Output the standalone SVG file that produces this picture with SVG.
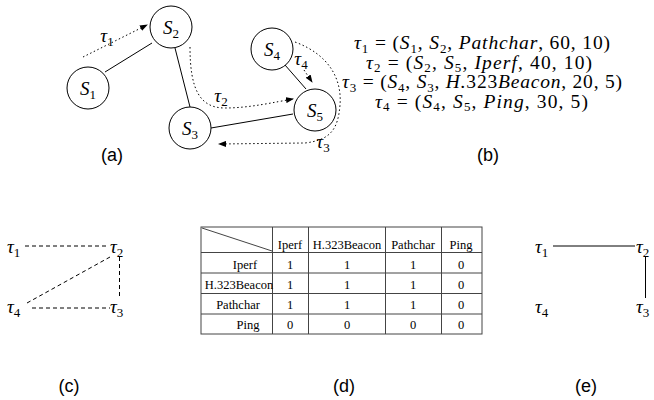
<svg xmlns="http://www.w3.org/2000/svg" width="654" height="400" viewBox="0 0 654 400">
<defs>
<style>
.m{font-family:"Liberation Serif","DejaVu Serif",serif;font-size:19px;fill:#000}
.b{font-family:"Liberation Serif","DejaVu Serif",serif;font-size:19.5px;fill:#000}
.i{font-style:italic}
.s{font-size:13px}
.lbl{font-family:"Liberation Sans",Arial,sans-serif;font-size:18px;fill:#000;text-anchor:middle}
.node{fill:#fff;stroke:#000;stroke-width:1}
.edge{stroke:#000;stroke-width:1;fill:none}
.dot{stroke:#000;stroke-width:1;fill:none;stroke-dasharray:1.5 2.5}
.dash{stroke:#000;stroke-width:1;fill:none;stroke-dasharray:4 3}
.tb{font-family:"Liberation Serif","Times New Roman",serif;font-size:12.5px;fill:#000;text-anchor:middle}
.grid{stroke:#444;stroke-width:1;fill:none}
</style>
<marker id="ah" markerWidth="8" markerHeight="6" refX="7" refY="3" orient="auto" markerUnits="userSpaceOnUse">
<path d="M0,0 L8,3 L0,6 Z" fill="#000"/>
</marker>
</defs>
<rect width="654" height="400" fill="#fff"/>

<!-- (a) -->
<g id="connectors-a">
<line class="edge" x1="105" y1="72" x2="152" y2="43"/>
<line class="edge" x1="175" y1="48" x2="190" y2="107"/>
<line class="edge" x1="211" y1="128" x2="293" y2="114"/>
<line class="edge" x1="285" y1="65" x2="306" y2="89"/>
<path class="dot" d="M83,57 L147,25" marker-end="url(#ah)"/>
<path class="dot" d="M190,47 C190,90 200,108 225,108 C250,108 275,102 293,99" marker-end="url(#ah)"/>
<path class="dot" d="M295,42 C330,55 342,80 340,105 C338,130 330,140 305,143 L219,144" marker-end="url(#ah)"/>
<path class="dot" d="M304,70 L312,82" marker-end="url(#ah)"/>
</g>
<g id="S1"><circle class="node" cx="88" cy="88" r="21"/><text class="m" x="88" y="95" text-anchor="middle"><tspan class="i">S</tspan><tspan class="s" dy="4">1</tspan></text></g>
<g id="S2"><circle class="node" cx="171" cy="27" r="21"/><text class="m" x="171" y="34" text-anchor="middle"><tspan class="i">S</tspan><tspan class="s" dy="4">2</tspan></text></g>
<g id="S3"><circle class="node" cx="190" cy="128" r="21"/><text class="m" x="190" y="135" text-anchor="middle"><tspan class="i">S</tspan><tspan class="s" dy="4">3</tspan></text></g>
<g id="S4"><circle class="node" cx="272" cy="49" r="21"/><text class="m" x="272" y="56" text-anchor="middle"><tspan class="i">S</tspan><tspan class="s" dy="4">4</tspan></text></g>
<g id="S5"><circle class="node" cx="315" cy="110" r="21"/><text class="m" x="315" y="117" text-anchor="middle"><tspan class="i">S</tspan><tspan class="s" dy="4">5</tspan></text></g>
<g id="tau-labels-a">
<text class="m" x="107" y="42" text-anchor="middle"><tspan class="i">τ</tspan><tspan class="s" dy="4">1</tspan></text>
<text class="m" x="221" y="102" text-anchor="middle"><tspan class="i">τ</tspan><tspan class="s" dy="4">2</tspan></text>
<text class="m" x="323" y="148" text-anchor="middle"><tspan class="i">τ</tspan><tspan class="s" dy="4">3</tspan></text>
<text class="m" x="301" y="65" text-anchor="middle"><tspan class="i">τ</tspan><tspan class="s" dy="4">4</tspan></text>
</g>
<text class="lbl" x="112" y="161">(a)</text>

<!-- (b) -->
<g id="tuples">
<text class="b" x="354" y="49" textLength="256" lengthAdjust="spacing"><tspan class="i">τ</tspan><tspan class="s" dy="3.5">1</tspan><tspan dy="-3.5"> = (</tspan><tspan class="i">S</tspan><tspan class="s" dy="3.5">1</tspan><tspan dy="-3.5">,</tspan><tspan class="i"> S</tspan><tspan class="s" dy="3.5">2</tspan><tspan dy="-3.5">,</tspan><tspan class="i"> Pathchar</tspan><tspan>, 60, 10)</tspan></text>
<text class="b" x="366" y="68.5" textLength="226" lengthAdjust="spacing"><tspan class="i">τ</tspan><tspan class="s" dy="3.5">2</tspan><tspan dy="-3.5"> = (</tspan><tspan class="i">S</tspan><tspan class="s" dy="3.5">2</tspan><tspan dy="-3.5">,</tspan><tspan class="i"> S</tspan><tspan class="s" dy="3.5">5</tspan><tspan dy="-3.5">,</tspan><tspan class="i"> Iperf</tspan><tspan>, 40, 10)</tspan></text>
<text class="b" x="342" y="88" textLength="280" lengthAdjust="spacing"><tspan class="i">τ</tspan><tspan class="s" dy="3.5">3</tspan><tspan dy="-3.5"> = (</tspan><tspan class="i">S</tspan><tspan class="s" dy="3.5">4</tspan><tspan dy="-3.5">,</tspan><tspan class="i"> S</tspan><tspan class="s" dy="3.5">3</tspan><tspan dy="-3.5">,</tspan><tspan class="i"> H.</tspan><tspan>323</tspan><tspan class="i">Beacon</tspan><tspan>, 20, 5)</tspan></text>
<text class="b" x="375" y="107.5" textLength="213" lengthAdjust="spacing"><tspan class="i">τ</tspan><tspan class="s" dy="3.5">4</tspan><tspan dy="-3.5"> = (</tspan><tspan class="i">S</tspan><tspan class="s" dy="3.5">4</tspan><tspan dy="-3.5">,</tspan><tspan class="i"> S</tspan><tspan class="s" dy="3.5">5</tspan><tspan dy="-3.5">,</tspan><tspan class="i"> Ping</tspan><tspan>, 30, 5)</tspan></text>
</g>
<text class="lbl" x="488" y="161">(b)</text>

<!-- (c) -->
<g id="connectors-c">
<line class="dash" x1="25" y1="246" x2="108" y2="246"/>
<line class="dash" x1="119.5" y1="257" x2="119.5" y2="297"/>
<line class="dash" x1="27" y1="303" x2="110" y2="257"/>
<line class="dash" x1="32" y1="308" x2="110" y2="308"/>
</g>
<g id="c-t1"><text class="m" x="7" y="253"><tspan class="i">τ</tspan><tspan class="s" dy="4">1</tspan></text></g>
<g id="c-t2"><text class="m" x="110" y="253"><tspan class="i">τ</tspan><tspan class="s" dy="4">2</tspan></text></g>
<g id="c-t4"><text class="m" x="7" y="313"><tspan class="i">τ</tspan><tspan class="s" dy="4">4</tspan></text></g>
<g id="c-t3"><text class="m" x="110" y="313"><tspan class="i">τ</tspan><tspan class="s" dy="4">3</tspan></text></g>
<text class="lbl" x="69" y="392">(c)</text>

<!-- (d) -->
<g id="table">
<rect class="grid" x="201" y="227" width="281" height="107"/>
<line class="grid" x1="272.5" y1="227" x2="272.5" y2="334"/>
<line class="grid" x1="308.5" y1="227" x2="308.5" y2="334"/>
<line class="grid" x1="385.5" y1="227" x2="385.5" y2="334"/>
<line class="grid" x1="441.5" y1="227" x2="441.5" y2="334"/>
<line class="grid" x1="201" y1="252.5" x2="482" y2="252.5"/>
<line class="grid" x1="201" y1="273" x2="482" y2="273"/>
<line class="grid" x1="201" y1="293.5" x2="482" y2="293.5"/>
<line class="grid" x1="201" y1="314" x2="482" y2="314"/>
<line class="grid" x1="202" y1="228" x2="272" y2="251"/>
<text class="tb" x="290" y="248.5">Iperf</text>
<text class="tb" x="347" y="248.5">H.323Beacon</text>
<text class="tb" x="413" y="248.5">Pathchar</text>
<text class="tb" x="461" y="248.5">Ping</text>
<text class="tb" x="245" y="268.5">Iperf</text>
<text class="tb" x="239" y="289">H.323Beacon</text>
<text class="tb" x="238" y="308.5">Pathchar</text>
<text class="tb" x="248" y="328.5">Ping</text>
<text class="tb" x="290" y="268.5">1</text><text class="tb" x="347" y="268.5">1</text><text class="tb" x="413" y="268.5">1</text><text class="tb" x="461" y="268.5">0</text>
<text class="tb" x="290" y="289">1</text><text class="tb" x="347" y="289">1</text><text class="tb" x="413" y="289">1</text><text class="tb" x="461" y="289">0</text>
<text class="tb" x="290" y="308.5">1</text><text class="tb" x="347" y="308.5">1</text><text class="tb" x="413" y="308.5">1</text><text class="tb" x="461" y="308.5">0</text>
<text class="tb" x="290" y="328.5">0</text><text class="tb" x="347" y="328.5">0</text><text class="tb" x="413" y="328.5">0</text><text class="tb" x="461" y="328.5">0</text>
</g>
<text class="lbl" x="344" y="392">(d)</text>

<!-- (e) -->
<g id="connectors-e">
<line class="edge" x1="553" y1="246" x2="635" y2="246"/>
<line class="edge" x1="645.5" y1="257" x2="645.5" y2="298"/>
</g>
<g id="e-t1"><text class="m" x="535" y="253"><tspan class="i">τ</tspan><tspan class="s" dy="4">1</tspan></text></g>
<g id="e-t2"><text class="m" x="636" y="253"><tspan class="i">τ</tspan><tspan class="s" dy="4">2</tspan></text></g>
<g id="e-t4"><text class="m" x="535" y="313"><tspan class="i">τ</tspan><tspan class="s" dy="4">4</tspan></text></g>
<g id="e-t3"><text class="m" x="636" y="313"><tspan class="i">τ</tspan><tspan class="s" dy="4">3</tspan></text></g>
<text class="lbl" x="586" y="392">(e)</text>
</svg>
